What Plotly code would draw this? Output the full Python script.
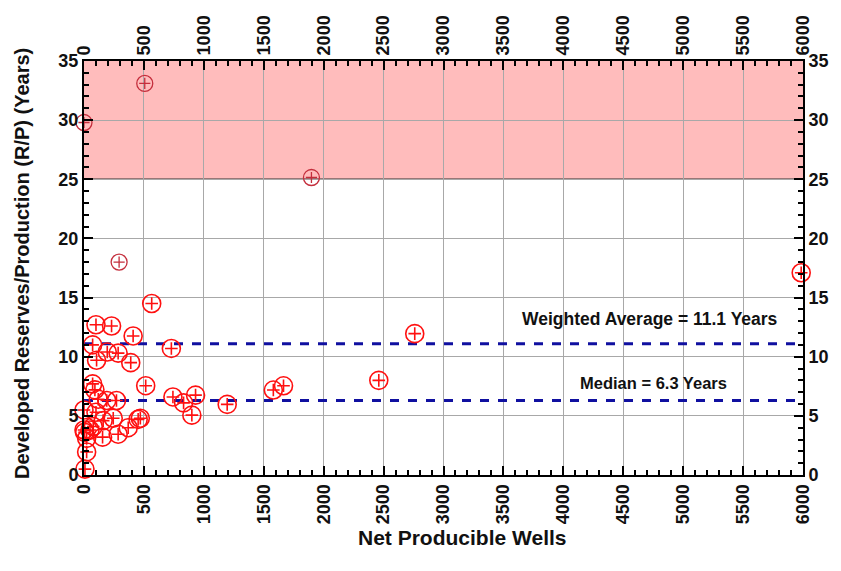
import plotly.graph_objects as go

# Net producible wells (x) vs developed R/P years (y)
wells = [0, 8, 22, 22, 50, 5, 0, 77, 160, 72, 91, 72, 100, 230, 410, 729, 194, 285, 105, 390,
         565, 515, 119, 190, 271, 100, 244, 452, 470, 155, 285, 369, 742, 931, 831, 900,
         1195, 1580, 1665, 2460, 2760, 5985]
rp_years = [5.5, 0.5, 1.95, 3.1, 3.8, 3.6, 3.8, 4.1, 4.6, 7.7, 7.2, 11.0, 12.7, 12.6, 11.75, 10.7, 10.4, 10.3, 9.7, 9.5,
            14.5, 7.55, 6.4, 6.3, 6.3, 5.3, 4.8, 4.7, 4.8, 3.2, 3.45, 4.0, 6.6, 6.75, 6.1, 5.06,
            5.97, 7.18, 7.54, 8.0, 11.95, 17.1]

# high R/P outliers (drawn darker)
out_wells = [293, 507, 0, 1898]
out_years = [18.0, 33.1, 29.8, 25.15]

weighted_avg = 11.1
median = 6.3
shade_low, shade_high = 25, 35

FONT = "Liberation Sans, Arial, sans-serif"
RED = "#ff1010"
DARK = "#c42e3c"

fig = go.Figure()

def add_points(xs, ys, color, csize, xsize, lw):
    fig.add_trace(go.Scatter(x=xs, y=ys, mode="markers", cliponaxis=False,
                             marker=dict(symbol="circle-open", size=csize, color=color,
                                         line=dict(width=lw, color=color)),
                             showlegend=False, hoverinfo="x+y"))
    fig.add_trace(go.Scatter(x=xs, y=ys, mode="markers", cliponaxis=False,
                             marker=dict(symbol="cross-thin-open", size=xsize, color=color,
                                         line=dict(width=lw, color=color)),
                             showlegend=False, hoverinfo="skip"))

# Reference lines
for val in (weighted_avg, median):
    fig.add_trace(go.Scatter(x=[0, 6000], y=[val, val], mode="lines",
                             line=dict(color="#1010a0", width=3, dash="dash"),
                             showlegend=False, hoverinfo="skip"))

add_points(wells, rp_years, RED, 18, 9, 1.6)
add_points(out_wells, out_years, DARK, 16, 8, 1.3)

# dummy trace for secondary axes
fig.add_trace(go.Scatter(x=[None], y=[None], xaxis="x2", yaxis="y2", showlegend=False))

fig.add_shape(type="rect", xref="x", yref="y", x0=0, x1=6000, y0=shade_low, y1=shade_high,
              fillcolor="#ffbcbc", line=dict(width=0), layer="below")
fig.add_shape(type="line", xref="x", yref="y", x0=0, x1=6000, y0=shade_low, y1=shade_low,
              line=dict(color="#333333", width=1.5), layer="below")

fig.add_annotation(x=4725, y=weighted_avg + 2.1, text="<b>Weighted Average = 11.1 Years</b>",
                   showarrow=False, font=dict(family=FONT, size=17.5, color="#111111"))
fig.add_annotation(x=4755, y=median + 1.45, text="<b>Median = 6.3 Years</b>",
                   showarrow=False, font=dict(family=FONT, size=16.5, color="#111111"))

# axis titles as annotations for exact placement
fig.add_annotation(xref="paper", yref="paper", x=0.527, y=-0.15, text="<b>Net Producible Wells</b>",
                   showarrow=False, font=dict(family=FONT, size=21, color="#111111"),
                   xanchor="center", yanchor="middle")
fig.add_annotation(xref="paper", yref="paper", x=-0.086, y=0.51,
                   text="<b>Developed Reserves/Production (R/P) (Years)</b>",
                   showarrow=False, textangle=-90, font=dict(family=FONT, size=20, color="#111111"),
                   xanchor="center", yanchor="middle")

tickfont = dict(family=FONT, size=18, color="#111111", weight="bold")
common = dict(showline=True, linecolor="black", linewidth=2, ticks="inside",
              ticklen=9, tickwidth=2, tickcolor="black", tickfont=tickfont, zeroline=False)

fig.update_layout(
    width=841, height=571,
    margin=dict(l=84, r=35, t=61, b=96),
    paper_bgcolor="white", plot_bgcolor="white",
    font=dict(family=FONT),
    xaxis=dict(range=[0, 6000], dtick=500, tick0=0, tickangle=-90,
               showgrid=True, gridcolor="#a8a8a8", gridwidth=1,
               minor=dict(dtick=100, ticks="inside", ticklen=5, tickwidth=1.5, tickcolor="black", showgrid=False),
               **common),
    yaxis=dict(range=[0, 35], dtick=5, tick0=0,
               showgrid=True, gridcolor="#a8a8a8", gridwidth=1,
               minor=dict(dtick=1, ticks="inside", ticklen=5, tickwidth=1.5, tickcolor="black", showgrid=False),
               **common),
    xaxis2=dict(range=[0, 6000], dtick=500, tick0=0, tickangle=-90, overlaying="x", side="top",
                anchor="y", showgrid=False,
                minor=dict(dtick=100, ticks="inside", ticklen=5, tickwidth=1.5, tickcolor="black"),
                **common),
    yaxis2=dict(range=[0, 35], dtick=5, tick0=0, overlaying="y", side="right", anchor="x",
                showgrid=False,
                minor=dict(dtick=1, ticks="inside", ticklen=5, tickwidth=1.5, tickcolor="black"),
                **common),
)

fig.write_html("out.html")
